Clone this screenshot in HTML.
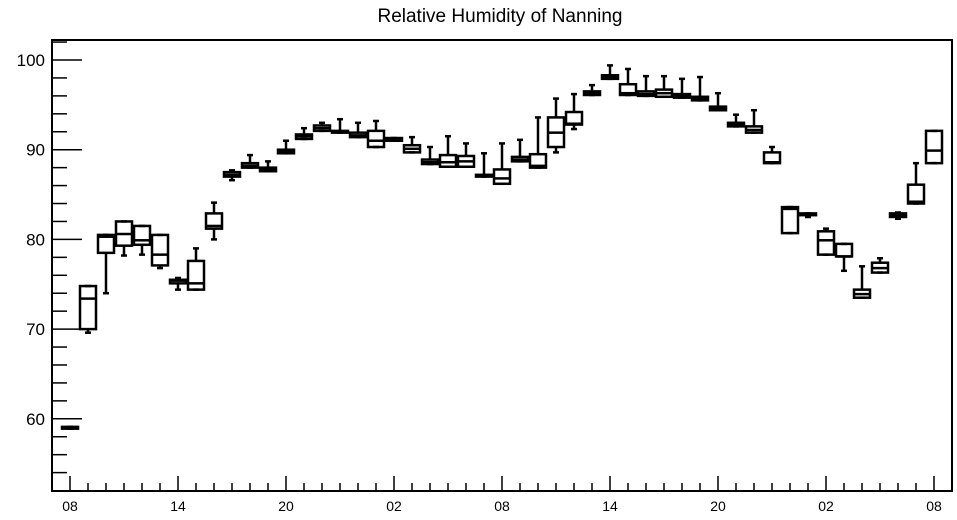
<!DOCTYPE html>
<html><head><meta charset="utf-8"><style>
body{margin:0;background:#fff;}
svg{display:block;font-family:"Liberation Sans",sans-serif;}
</style></head><body>
<svg id="chart" width="957" height="520" viewBox="0 0 957 520">
<text x="500" y="22" font-size="19" text-anchor="middle">Relative Humidity of Nanning</text>
<rect x="52" y="40" width="900" height="451" fill="none" stroke="#000" stroke-width="2"/>
<g id="axes"></g>
<g id="boxes"></g>
</svg>
<script>
const hours = ["08","09","10","11","12","13","14","15","16","17","18","19","20","21","22","23","00","01","02","03","04","05","06","07","08","09","10","11","12","13","14","15","16","17","18","19","20","21","22","23","00","01","02","03","04","05","06","07","08"];
const q1 = [58.9,70,78.5,79.3,79.4,77.1,75.1,74.4,81.2,87,88,87.6,89.6,91.2,92.1,91.9,91.4,90.3,91,89.7,88.4,88.1,88.1,87,86.2,88.7,88,90.3,92.8,96.1,97.9,96.1,96,95.9,95.8,95.5,94.4,92.6,91.9,88.5,80.7,82.7,78.3,78.1,73.5,76.3,82.5,84,88.5];
const median = [59,73.4,80.3,80.6,79.9,78.3,75.4,75.1,81.5,87.2,88.2,87.8,89.8,91.5,92.4,92,91.6,91,91.1,90.1,88.6,88.6,88.7,87.1,86.8,88.9,88.2,91.9,92.9,96.3,98.1,96.3,96.2,96.3,96,95.7,94.6,92.8,92.2,88.6,83.4,82.8,79.9,78.1,73.9,76.8,82.7,84.2,89.9];
const q3 = [59.1,74.8,80.5,82,81.5,80.5,75.5,77.6,82.9,87.5,88.5,88,90,91.7,92.7,92.1,91.9,92.1,91.3,90.5,88.9,89.4,89.3,87.2,87.8,89.2,89.5,93.6,94.2,96.5,98.3,97.3,96.5,96.7,96.2,95.9,94.8,93,92.6,89.7,83.6,82.9,80.9,79.5,74.4,77.4,82.9,86.1,92.1];
const whiskerLow = [58.9,69.6,74,78.2,78.3,76.8,74.4,74.4,80,86.6,88,87.6,89.6,91.2,92.1,91.9,91.4,90.3,91,89.7,88.4,88.1,88.1,87,86.2,88.7,88,89.7,92.3,96.1,97.9,96.1,96,95.9,95.8,95.5,94.4,92.6,91.9,88.5,80.7,82.5,78.3,76.5,73.5,76.3,82.3,84,88.5];
const whiskerHigh = [59.1,74.8,80.5,82,81.5,80.5,75.7,79,84.1,87.7,89.4,88.7,91,92.4,93,93.4,93,93.2,91.3,91.4,90.3,91.5,90.7,89.6,90.7,91.1,93.6,95.7,96.2,97.2,99.4,99,98.2,98.2,97.9,98.1,96.3,93.9,94.4,90.3,83.6,82.9,81.2,79.5,77,77.9,83,88.5,92.1];
const yTicks = [60,70,80,90,100];
const xLabels = ["08","14","20","02","08","14","20","02","08"];

const NS="http://www.w3.org/2000/svg";
const yS = v => 60 + (100 - v) * 8.97;
const xS = i => 70 + i * 18;
const axes=document.getElementById('axes'), boxes=document.getElementById('boxes');
function mk(tag, attrs, parent){const e=document.createElementNS(NS,tag);for(const k in attrs)e.setAttribute(k,attrs[k]);parent.appendChild(e);return e;}

for(let v=54; v<=102; v+=2){
  const major = v%10===0;
  const t=mk('line',{x1:52,x2:major?82:67,y1:yS(v),y2:yS(v),stroke:'#000','stroke-width':1.5},axes);
  
  
}
yTicks.forEach(v=>{
  const t=mk('text',{x:45,y:yS(v)+6,'font-size':17,'text-anchor':'end'},axes);
  t.textContent=v;
  
  
});
hours.forEach((h,i)=>{
  const major = i%6===0;
  const t=mk('line',{x1:xS(i),x2:xS(i),y1:491,y2:major?476:483,stroke:'#000','stroke-width':1.5},axes);
  
  
});
xLabels.forEach((l,k)=>{
  const t=mk('text',{x:xS(k*6),y:511,'font-size':14,'text-anchor':'middle'},axes);
  t.textContent=l;
  
  
});
hours.forEach((h,i)=>{
  const g=mk('g',{stroke:'#000','stroke-width':2.5,fill:'none'},boxes);
  
  
  const x=xS(i), w=16;
  mk('line',{x1:x,x2:x,y1:yS(whiskerHigh[i]),y2:yS(q3[i])},g);
  mk('line',{x1:x,x2:x,y1:yS(q1[i]),y2:yS(whiskerLow[i])},g);
  mk('line',{x1:x-3,x2:x+3,y1:yS(whiskerHigh[i]),y2:yS(whiskerHigh[i])},g);
  mk('line',{x1:x-3,x2:x+3,y1:yS(whiskerLow[i]),y2:yS(whiskerLow[i])},g);
  mk('rect',{x:x-w/2,y:yS(q3[i]),width:w,height:Math.max(0.5,yS(q1[i])-yS(q3[i]))},g);
  mk('line',{x1:x-w/2,x2:x+w/2,y1:yS(median[i]),y2:yS(median[i])},g);
});
</script>
</body></html>
